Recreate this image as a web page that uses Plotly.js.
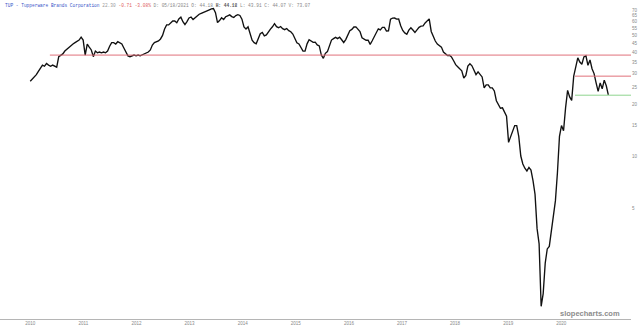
<!DOCTYPE html>
<html><head><meta charset="utf-8">
<script src="https://cdn.plot.ly/plotly-3.0.1.min.js"></script>
<style>html,body{margin:0;padding:0;background:#fff}#chart{width:640px;height:330px}</style>
</head><body><div id="chart"></div>
<script>
// Biweekly closes (dividend-adjusted)
const startDate = '2010-08-01';
const stepDays = 14;
const closes = [
27.1, 27.9, 28.6, 29.6, 30.9, 32.2, 33.6, 33.1, 34.3, 33.6, 33.1, 33.6, 33.1, 32.7,
37.6, 38.4, 39.0, 40.5, 41.6, 42.7, 43.9, 44.5, 45.3, 45.9, 46.9, 48.8, 46.9, 38.4,
44.5, 42.7, 41.1, 37.6, 40.5, 39.6, 40.0, 39.6, 40.0, 39.6, 40.5, 43.2, 45.3, 45.3,
44.5, 45.9, 45.3, 44.5, 42.2, 39.6, 38.0, 37.6, 38.0, 38.4, 38.0, 38.4, 38.0, 38.4,
39.0, 39.6, 40.0, 41.1, 43.9, 45.3, 45.9, 46.4,
47.6, 49.9, 54.4, 57.4, 57.4, 59.0, 60.5, 60.5, 59.1, 62.1, 63.6, 59.9, 57.7, 60.0, 63.0, 63.8, 61.6, 63.1, 64.7, 66.2, 67.0, 67.8, 68.6, 70.1, 70.2, 71.0,
71.4, 67.6, 59.2, 60.8, 63.1, 61.6, 64.0, 64.8, 65.6, 64.1, 63.4, 65.0, 65.8, 65.1, 62.0, 55.9, 54.4, 56.0, 51.4, 46.8, 45.3, 44.6, 47.8, 51.0, 51.9, 49.6,
50.2, 52.7, 54.3, 56.0, 58.4, 56.1, 55.3, 56.2, 54.6, 53.9, 54.7, 53.2, 52.4, 50.8, 48.4, 45.2, 44.5, 42.1, 40.5, 40.5, 44.6, 47.1, 46.3, 45.5, 45.6, 44.0,
43.4, 38.4, 36.8, 39.3, 40.2, 43.5, 46.9, 47.8, 48.6, 47.8, 48.7, 47.1, 45.4, 47.2, 50.6, 53.2, 54.1, 55.8, 55.9, 54.2, 52.6, 48.4, 47.6, 46.8, 46.8, 44.3,
46.5, 49.2, 52.7, 54.5, 53.7, 55.5, 55.5, 52.9, 53.0, 61.9, 62.8, 62.9, 62.0, 62.1, 56.8, 53.3, 51.6, 50.7, 53.5, 55.3, 53.6, 51.9, 53.7, 55.6, 56.5, 56.6,
58.9, 61.0, 62.2, 52.6, 49.0, 46.3, 44.5, 43.6, 42.7, 40.0, 39.1, 38.2, 38.3, 37.4, 35.6, 33.8, 32.9, 32.0, 31.1, 28.3, 29.3, 33.2, 34.2, 33.3, 31.4, 29.6,
30.7, 29.7, 28.7, 24.8, 25.8, 25.8, 24.8, 24.8, 23.8, 20.9, 19.9, 18.9, 19.0, 18.0, 17.0, 12.0, 13.0, 14.0, 15.0, 15.0, 13.0, 10.0, 9.0, 8.5, 8.2, 8.6,
8.3, 7.2, 6.0, 3.8, 3.1,
1.35, 1.6, 2.4, 2.9, 3.0, 3.6, 4.5, 5.5, 8.0, 13.0, 15.0, 14.0, 19.0, 24.0, 22.0, 21.0, 29.0, 32.6, 37.0, 35.0,
34.0, 37.5, 38.0, 33.5, 36.0, 32.0, 30.0, 26.5, 23.7, 26.5, 24.5, 27.5, 25.5, 22.6
];
const yearLabels = ['2010','2011','2012','2013','2014','2015','2016','2017','2018','2019','2020'];
const yearTickDates = ['2010-08-01','2011-08-01','2012-08-01','2013-08-01','2014-08-01','2015-08-01','2016-08-01','2017-08-01','2018-08-01','2019-08-01','2020-08-01'];
const priceTicks = [5, 10, 15, 20, 25, 30, 35, 40, 45, 50, 55, 60, 65, 70];
const levelValues = [38.4, 29.0, 22.5];
const levelStartDates = ['2010-12-14', '2020-11-03', '2020-11-03'];
const levelEndDate = '2021-11-23';

const dates = closes.map((_, i) => {
  const d = new Date(startDate + 'T00:00:00Z');
  d.setUTCDate(d.getUTCDate() + i * stepDays);
  return d.toISOString().slice(0, 10);
});

const levelColors = ['#e0707a', '#e0707a', '#8fd48f'];
const shapes = levelValues.map((v, k) => ({
  type: 'line', xref: 'x', yref: 'y',
  x0: levelStartDates[k], x1: levelEndDate, y0: v, y1: v,
  line: {color: levelColors[k], width: 1}
}));

const trace = {
  x: dates, y: closes, type: 'scatter', mode: 'lines',
  line: {color: '#111', width: 1.35}, hoverinfo: 'skip'
};

const header = '<span style="color:#3a55c8">TUP - Tupperware Brands Corporation</span> ' +
  '<span style="color:#999">22.30</span> <span style="color:#e06060">-0.71 -3.08%</span> ' +
  '<span style="color:#888">D: 05/18/2021 O: 44.18 </span><b>H: 44.18</b><span style="color:#888"> L: 43.91 C: 44.07 V: 73.07</span>';

const layout = {
  width: 640, height: 330,
  margin: {l: 0, r: 9, t: 0, b: 11},
  paper_bgcolor: '#fff', plot_bgcolor: '#fff',
  showlegend: false,
  xaxis: {
    type: 'date', range: ['2010-01-05', levelEndDate],
    showgrid: false, zeroline: false, showline: true, linecolor: '#b5b5b5', linewidth: 1,
    tickmode: 'array', tickvals: yearTickDates, ticktext: yearLabels, ticks: '',
    tickfont: {family: 'Liberation Sans', size: 4.5, color: '#888'}
  },
  yaxis: {
    type: 'log', range: [Math.log10(1.14), Math.log10(80)], side: 'right',
    showgrid: false, zeroline: false, showline: false,
    tickmode: 'array', tickvals: priceTicks, ticktext: priceTicks.map(String), ticks: '',
    tickfont: {family: 'Liberation Sans', size: 4.5, color: '#888'}
  },
  shapes: shapes,
  annotations: [
    {xref: 'paper', yref: 'paper', x: 0.004, y: 1, xanchor: 'left', yanchor: 'top', yshift: -1,
     showarrow: false, text: header, font: {family: 'Liberation Mono', size: 4.5, color: '#555'}},
    {xref: 'paper', yref: 'paper', x: 558 / 631, y: 0.016, xanchor: 'left', yanchor: 'middle',
     showarrow: false, text: '<b>slopecharts.com</b>', font: {family: 'Liberation Sans', size: 7.5, color: '#8c8c8c'}}
  ]
};

Plotly.newPlot('chart', [trace], layout, {displayModeBar: false, staticPlot: true});
</script>
</body></html>
